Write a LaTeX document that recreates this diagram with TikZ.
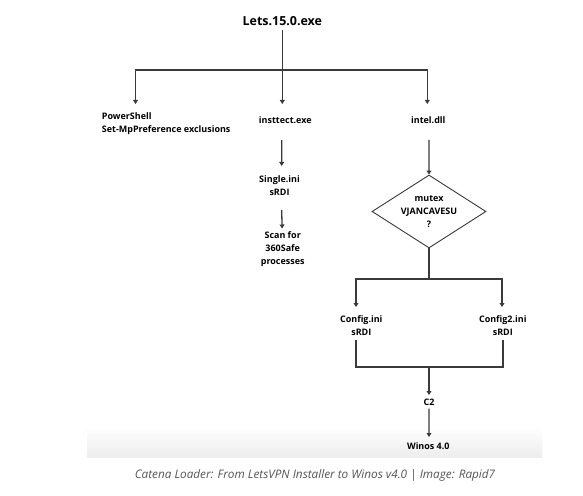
\documentclass[tikz,border=0pt]{standalone}
\usepackage{fontspec}
\setmainfont{Open Sans}
\usetikzlibrary{arrows.meta,calc,shapes.geometric}
\definecolor{ink}{HTML}{3A3A3A}
\definecolor{capgray}{HTML}{555555}
\begin{document}
\begin{tikzpicture}[x=1bp,y=-1bp,
  lbl/.style={font=\bfseries\fontsize{9}{13}\selectfont, text=black, inner sep=0pt, align=center},
  ln/.style={draw=ink, line width=1.3bp, line join=miter},
  arr/.style={ln, -{Triangle[length=4bp,width=4.8bp]}},
  darr/.style={ln, {Triangle[length=4bp,width=4.8bp]}-{Triangle[length=4bp,width=4.8bp]}},
  decision/.style={shape=diamond, draw=ink, line width=0.9bp, minimum width=114bp, minimum height=73bp, aspect=1.56, inner sep=0pt}
]
\useasboundingbox (0,0) rectangle (583,496);
\fill[white] (0,0) rectangle (583,496);
\shade[top color=white, bottom color=black!7] (87,426) rectangle (542,457);

% nodes
\node[lbl, font=\bfseries\fontsize{12.5}{15}\selectfont] (lets) at (282.3,21) {Lets.15.0.exe};
\node[lbl, anchor=west, align=left] (ps) at (101.7,124) {PowerShell\\Set-MpPreference exclusions};
\node[lbl] (ins) at (285.3,120.5) {insttect.exe};
\node[lbl] (intel) at (428.3,120.5) {intel.dll};
\node[lbl] (single) at (279.5,185.5) {Single.ini\\sRDI};
\node[lbl] (scan) at (282.7,249) {Scan for\\360Safe\\processes};
\node[decision] (dia) at (429,211.5) {};
\node[lbl] at (dia.center) (diatext) {mutex\\VJANCAVESU\\?};
\node[lbl] (cfg1) at (361.3,325.5) {Config.ini\\sRDI};
\node[lbl] (cfg2) at (502.8,325.5) {Config2.ini\\sRDI};
\node[lbl] (c2) at (429,402) {C2};
\node[lbl] (winos) at (428.3,446) {Winos 4.0};

% caption
\node[font=\itshape\fontsize{11.8}{14}\selectfont, text=capgray, inner sep=0pt] (cap) at (315,475.5)
  {Catena Loader: From LetsVPN Installer to Winos v4.0 | Image: Rapid7};

% top bus
\coordinate (bL) at (135.5,70);
\coordinate (bR) at (427.3,70);
\coordinate (bC) at (282.3,70);
\draw[ln] ($(lets.center)+(0,9)$) -- (bC);
\draw[arr] (bC) -- ($(bC |- ins)+(0,-16.5)$);
\draw[darr] ($(bL |- ins)+(0,-16.5)$) -- (bL) -- (bR) -- ($(bR |- intel)+(0,-16.5)$);

% left column
\draw[arr] ($(ins.center)+(-3.6,19.5)$) -- ($(single.center)+(2.2,-19.5)$);
\draw[arr] ($(single.center)+(2.2,24.5)$) -- ($(scan.center)+(-0.6,-20.5)$);

% right column
\draw[arr] ($(intel.center)+(0.7,19.5)$) -- (dia.north);
\coordinate (mL) at (356,279);
\coordinate (mR) at (502,279);
\draw[ln] (dia.south) -- (dia.south |- mL);
\draw[darr] ($(mL |- cfg1)+(0,-18.5)$) -- (mL) -- (mR) -- ($(mR |- cfg2)+(0,-18.5)$);

\coordinate (nL) at (356,367);
\coordinate (nR) at (503,367);
\coordinate (nC) at (429,367);
\draw[ln] ($(nL |- cfg1)+(0,14.5)$) -- (nL) -- (nR) -- ($(nR |- cfg2)+(0,14.5)$);
\draw[arr] (nC) -- ($(c2.center)+(0,-7)$);
\draw[arr] ($(c2.center)+(0,6.5)$) -- ($(winos.center)+(0.7,-9)$);
\end{tikzpicture}
\end{document}
